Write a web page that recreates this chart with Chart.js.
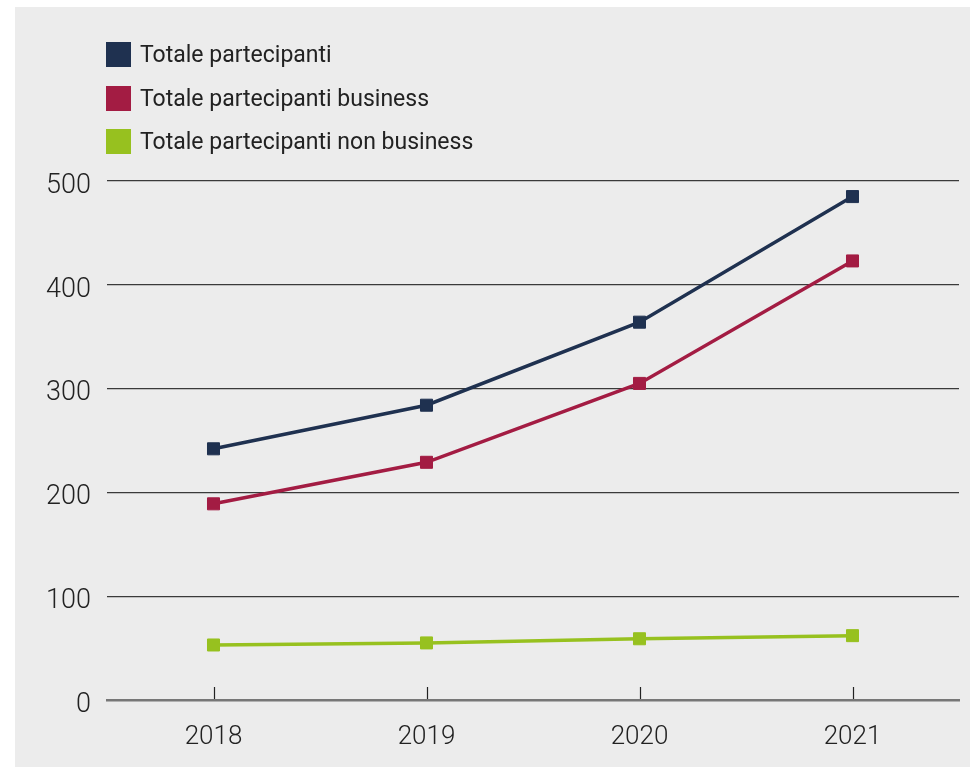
<!DOCTYPE html>
<html>
<head>
<meta charset="utf-8">
<script src="https://cdn.jsdelivr.net/npm/chart.js@4.4.1/dist/chart.umd.min.js"></script>
<style>
	html, body { margin: 0; padding: 0; background: #fff; }
	#panel { position: absolute; left: 15px; top: 7px; width: 955px; height: 760px; background: #ececec; }
	#chart { position: absolute; left: 0; top: 0; }
	#legend { position: absolute; left: 91px; top: 26px; font-family: Roboto, sans-serif; font-size: 23px; color: #222; }
	.item { display: flex; align-items: center; height: 43.5px; }
	.box { width: 25px; height: 25px; margin-right: 9px; }
</style>
</head>
<body>
<div id="panel">
	<canvas id="chart" width="955" height="760"></canvas>
	<div id="legend"></div>
</div>
<script>
const years = ['2018', '2019', '2020', '2021'];
const totale = [242, 284, 364, 485];
const business = [189, 229, 305, 423];
const nonBusiness = [53, 55, 59, 62];
const seriesNames = ['Totale partecipanti', 'Totale partecipanti business', 'Totale partecipanti non business'];
const seriesColors = ['#1f3150', '#a31c43', '#97c11f'];

const makeSet = (i, data) => ({
	label: seriesNames[i],
	data: data,
	borderColor: seriesColors[i],
	backgroundColor: seriesColors[i],
	borderWidth: 3.5,
	pointStyle: 'rect',
	pointRadius: 8.5,
	pointBorderWidth: 1,
	pointHoverRadius: 8.5,
	tension: 0,
});

// tick marks point up from the x axis
const upTicks = {
	id: 'upTicks',
	afterDraw(chart) {
		const x = chart.scales.x;
		const ctx = chart.ctx;
		const bottom = chart.chartArea.bottom;
		ctx.save();
		ctx.strokeStyle = '#222';
		ctx.lineWidth = 1.2;
		x.ticks.forEach((t, i) => {
			const px = Math.round(x.getPixelForTick(i)) + 0.5;
			ctx.beginPath();
			ctx.moveTo(px, bottom - 13);
			ctx.lineTo(px, bottom - 1);
			ctx.stroke();
		});
		ctx.restore();
	},
};

const chart = new Chart(document.getElementById('chart'), {
	type: 'line',
	data: {
		labels: years,
		datasets: [makeSet(0, totale), makeSet(1, business), makeSet(2, nonBusiness)],
	},
	options: {
		responsive: false,
		animation: false,
		layout: { padding: { top: 174, right: 11, left: 0, bottom: 0 } },
		plugins: {
			legend: { display: false },
			tooltip: { enabled: false },
		},
		scales: {
			x: {
				offset: true,
				afterFit: (s) => { s.height = 67; },
				grid: { drawOnChartArea: false, drawTicks: false },
				border: { display: true, color: '#777', width: 2.5 },
				ticks: {
					padding: 22,
					color: '#222',
					font: { family: 'Roboto', size: 26, weight: '300' },
				},
			},
			y: {
				min: 0,
				max: 500,
				afterFit: (s) => { s.width = 92; },
				grid: { color: '#3a3a3a', lineWidth: 1.3, drawTicks: false },
				border: { display: false },
				ticks: {
					stepSize: 100,
					padding: 16,
					labelOffset: 5,
					color: '#222',
					font: { family: 'Roboto', size: 27, weight: '300' },
				},
			},
		},
	},
	plugins: [upTicks],
});

const legend = document.getElementById('legend');
chart.data.datasets.forEach((ds) => {
	const row = document.createElement('div');
	row.className = 'item';
	const box = document.createElement('span');
	box.className = 'box';
	box.style.background = ds.borderColor;
	const txt = document.createElement('span');
	txt.textContent = ds.label;
	row.appendChild(box);
	row.appendChild(txt);
	legend.appendChild(row);
});
</script>
</body>
</html>
